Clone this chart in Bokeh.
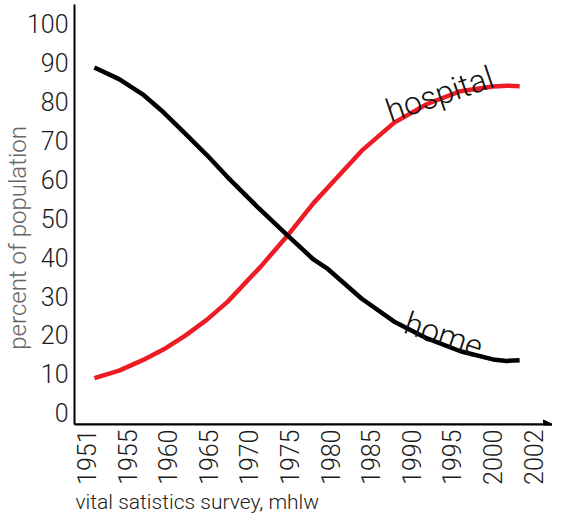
import math
from bokeh.plotting import figure
from bokeh.models import Range1d, FixedTicker, Label, Arrow, NormalHead, Title
from bokeh.embed import file_html
from bokeh.resources import INLINE

# ---- data (x positions are in tick-slot units along the year axis) ----
year_labels = ["1951", "1955", "1960", "1965", "1970", "1975",
               "1980", "1985", "1990", "1995", "2000", "2002"]
y_ticks = [0, 10, 20, 30, 40, 50, 60, 70, 80, 90, 100]

home_pos = [0.19, 0.80, 1.38, 1.90, 2.43, 2.95, 3.47, 4.20, 4.93, 5.59, 5.95,
            6.78, 7.58, 8.39, 9.21, 10.01, 10.35, 10.67]
home_pct = [88.8, 85.8, 81.9, 77.2, 71.8, 66.4, 60.6, 53.0, 45.8, 39.4, 36.9,
            29.3, 23.4, 19.1, 15.8, 13.7, 13.3, 13.5]

hosp_pos = [0.19, 0.80, 1.38, 1.90, 2.43, 2.95, 3.47, 4.30, 4.93, 5.59, 5.95,
            6.78, 7.58, 8.39, 9.21, 10.01, 10.35, 10.67]
hosp_pct = [8.9, 10.8, 13.5, 16.3, 19.8, 23.8, 28.5, 37.7, 45.3, 53.9, 58.0,
            67.4, 74.6, 79.4, 82.7, 83.9, 84.1, 84.0]

source_note = "vital satistics survey, mhlw"

FONT = "Roboto Light, Liberation Sans, sans-serif"

p = figure(width=552, height=513, output_backend="svg", toolbar_location=None,
           x_range=Range1d(-0.30, 11.48), y_range=Range1d(-3.05, 105.0),
           min_border_left=68, min_border_right=0, min_border_top=4,
           min_border_bottom=88)
p.outline_line_color = None
p.xgrid.grid_line_color = None
p.ygrid.grid_line_color = None
p.background_fill_color = "white"
p.border_fill_color = "white"

# x axis
xa = p.xaxis[0]
xa.ticker = FixedTicker(ticks=list(range(len(year_labels))))
xa.major_label_overrides = {i: lab for i, lab in enumerate(year_labels)}
xa.major_label_orientation = math.pi / 2
xa.major_tick_in = 0
xa.major_tick_out = 0
xa.minor_tick_in = 0
xa.minor_tick_out = 0
xa.major_label_standoff = 5
xa.axis_line_width = 2
xa.axis_line_color = "black"
xa.major_label_text_font = FONT
xa.major_label_text_font_size = "25px"
xa.major_label_text_color = "#1a1a1a"

# source note, left-aligned under the axis
p.add_layout(Title(text=source_note, align="left", offset=1, standoff=0,
                   text_font=FONT, text_font_size="21px",
                   text_font_style="normal", text_color="#222222"), "below")

# y axis
ya = p.yaxis[0]
ya.ticker = FixedTicker(ticks=y_ticks)
ya.major_tick_in = 0
ya.major_tick_out = 0
ya.minor_tick_in = 0
ya.minor_tick_out = 0
ya.major_label_standoff = 6
ya.axis_line_width = 2
ya.axis_line_color = "black"
ya.major_label_text_font = FONT
ya.major_label_text_font_size = "25px"
ya.major_label_text_color = "#1a1a1a"
ya.axis_label = "percent of population" + "\u00a0" * 8
ya.axis_label_text_font = FONT
ya.axis_label_text_font_size = "24px"
ya.axis_label_text_font_style = "normal"
ya.axis_label_text_color = "#666666"
ya.axis_label_standoff = -8

# arrow head at the end of the x axis
p.add_layout(Arrow(x_start=p.x_range.start, y_start=p.y_range.start,
                   x_end=p.x_range.end, y_end=p.y_range.start,
                   line_width=2, line_color="black",
                   end=NormalHead(size=9, fill_color="black", line_color="black")))

# curves
p.line(hosp_pos, hosp_pct, line_color="#ED1C24", line_width=4.5)
p.line(home_pos, home_pct, line_color="#000000", line_width=4.5)

# curve labels
p.add_layout(Label(x=8.70, y=82.0, text="hospital", angle=0.326,
                   text_align="center", text_baseline="alphabetic",
                   text_font=FONT, text_font_size="32px", text_color="#111111"))
p.add_layout(Label(x=8.80, y=20.0, text="home", angle=-0.328,
                   text_align="center", text_baseline="alphabetic",
                   text_font=FONT, text_font_size="32px", text_color="#111111"))

open("out.html", "w").write(file_html(p, INLINE))
